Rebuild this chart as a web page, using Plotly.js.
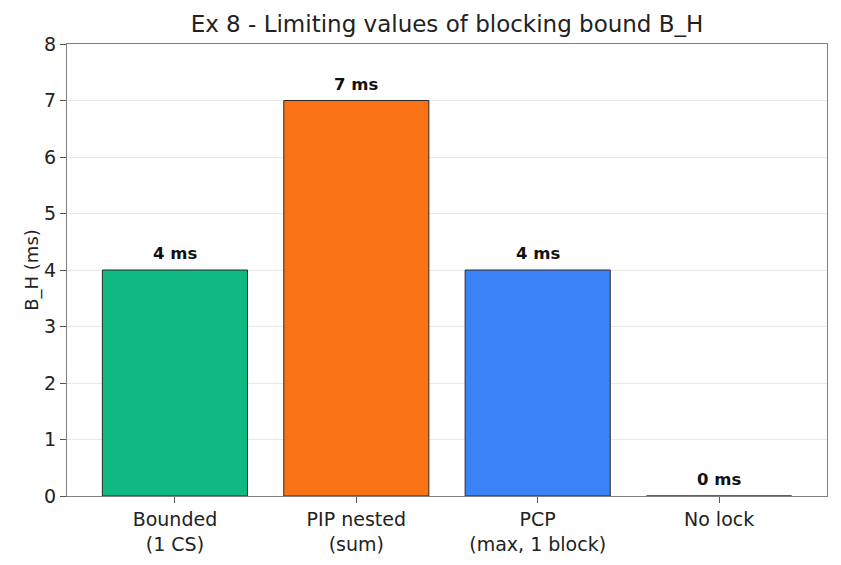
<!DOCTYPE html>
<html>
<head>
<meta charset="utf-8">
<script src="https://cdn.plot.ly/plotly-3.0.1.min.js"></script>
<style>html,body{margin:0;padding:0;background:#fff;}#chart{width:841px;height:565px;}</style>
</head>
<body>
<div id="chart"></div>
<script>
const categories = ["Bounded<br>(1 CS)", "PIP nested<br>(sum)", "PCP<br>(max, 1 block)", "No lock"];
const values = [4, 7, 4, 0];
const labels = ["4 ms", "7 ms", "4 ms", "0 ms"];
const colors = ["#10b981", "#f97316", "#3b82f6", "#9ca3af"];
const yTicks = [0, 1, 2, 3, 4, 5, 6, 7, 8];

const font = "DejaVu Sans, sans-serif";
const idx = categories.map((c, i) => i);

const trace = {
  type: "bar",
  x: idx,
  y: values,
  width: 0.8,
  marker: { color: colors, line: { color: "#2b2b2b", width: 1 } },
  hoverinfo: "skip"
};

const annotations = values.map((v, i) => ({
  x: i, y: v, xref: "x", yref: "y",
  text: "<b>" + labels[i] + "</b>",
  showarrow: false, yanchor: "bottom", yshift: 5,
  font: { family: font, size: 16.5, color: "#111" }
}));

const layout = {
  width: 841, height: 565,
  margin: { l: 67, r: 14, t: 44, b: 69 },
  paper_bgcolor: "#fff", plot_bgcolor: "#fff",
  title: { text: "Ex 8 - Limiting values of blocking bound B_H", xref: "paper", x: 0.5, xanchor: "center", y: 0.957, yanchor: "middle",
           font: { family: font, size: 23, color: "#222" } },
  showlegend: false,
  bargap: 0,
  xaxis: {
    range: [-0.595, 3.595],
    tickmode: "array", tickvals: idx, ticktext: categories,
    showgrid: false, zeroline: false,
    showline: true, mirror: true, linecolor: "#808080", linewidth: 1,
    ticks: "outside", ticklen: 6, tickcolor: "#555", tickwidth: 1,
    tickfont: { family: font, size: 19, color: "#222" }
  },
  yaxis: {
    range: [0, 8],
    tickmode: "array", tickvals: yTicks,
    showgrid: true, gridcolor: "#e8e8e8", gridwidth: 1,
    zeroline: false,
    showline: true, mirror: true, linecolor: "#808080", linewidth: 1,
    ticks: "outside", ticklen: 6, tickcolor: "#555", tickwidth: 1,
    tickfont: { family: font, size: 19, color: "#222" },
    title: { text: "B_H (ms)", font: { family: font, size: 18, color: "#222" }, standoff: 0 }
  },
  annotations: annotations
};

Plotly.newPlot("chart", [trace], layout, { displayModeBar: false, staticPlot: true });
</script>
</body>
</html>
